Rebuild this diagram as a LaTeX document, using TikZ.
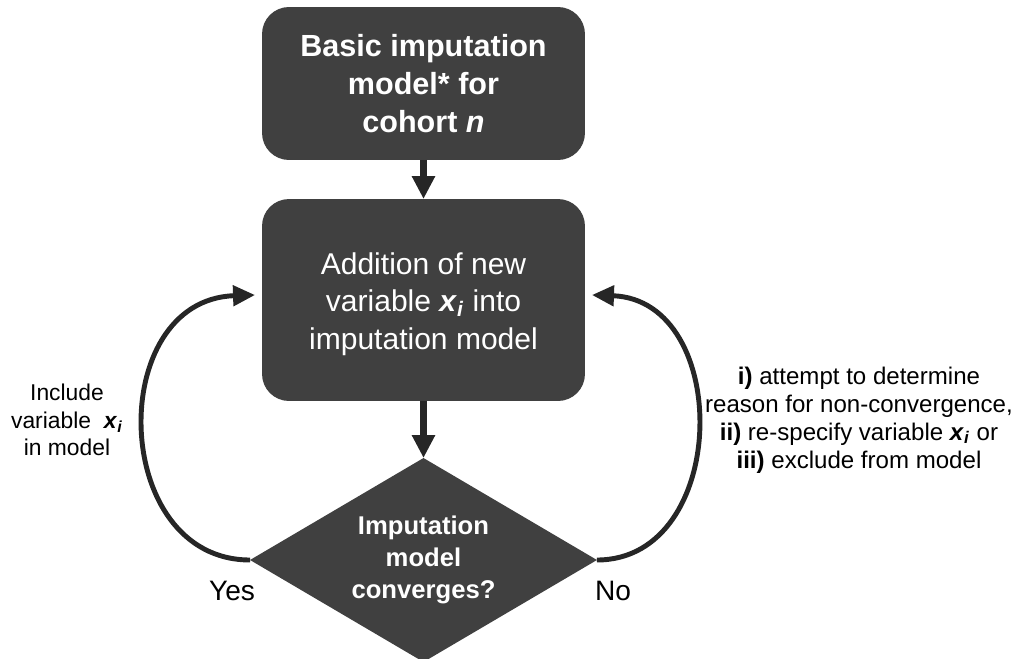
\documentclass[tikz,border=0pt]{standalone}
\usepackage{fontspec}
\setmainfont{Liberation Sans}
\usetikzlibrary{arrows.meta,shapes.geometric,calc}
\definecolor{boxgray}{HTML}{404040}
\definecolor{arrowgray}{HTML}{262626}
\newcommand{\myxi}{\textbf{\textit{x}}\textsubscript{\textbf{\textit{i}}}}
\tikzset{
  darkbox/.style={draw=none, fill=boxgray, rounded corners=0.54cm, text=white, align=center, inner sep=0pt, outer sep=0pt, minimum width=6.46cm},
  straightarrow/.style={draw=arrowgray, line width=4.5pt, -{Triangle[width=0.44cm,length=0.46cm]}},
  loopArrow/.style={draw=arrowgray, line width=2.8pt, -{Triangle[width=0.4cm,length=0.44cm]}},
  sidelabel/.style={align=center, text=black, inner sep=0pt}
}
\begin{document}
\begin{tikzpicture}[x=0.02cm,y=-0.02cm]
\useasboundingbox (0,0) rectangle (1019,659);
\node[darkbox, minimum height=3.06cm, font=\fontsize{17.4}{21.5}\selectfont\bfseries] (top) at (423.5,83.5)
  {Basic imputation\\model* for\\cohort \textit{n}};
\node[darkbox, minimum height=4.04cm] (mid) at (423.5,300) {};
\node[text=white, align=center, inner sep=0pt, font=\fontsize{17.1}{21.3}\selectfont] (midtext) at ($(mid.center)+(0,4)$)
  {Addition of new\\variable \myxi{} into\\imputation model};
\node[diamond, fill=boxgray, text=white, align=center, inner sep=0pt, outer sep=0pt, aspect=1.7,
  minimum width=6.94cm, minimum height=4.08cm, font=\fontsize{14.6}{18.4}\selectfont\bfseries] (dia) at (423.5,560)
  {Imputation\\model\\converges?};
\draw[straightarrow] (top.south) -- (mid.north);
\draw[straightarrow] (mid.south) -- (dia.north);
\coordinate (lt) at ($(mid.west)+(-7,-5)$);
\coordinate (rt) at ($(mid.east)+(7,-5)$);
\draw[loopArrow] (dia.west) .. controls (110,560) and (105,300) .. (lt);
\draw[loopArrow] (dia.east) .. controls (730,560) and (733,300) .. (rt);
\node[sidelabel, font=\fontsize{16}{19}\selectfont] (yes) at (232,591) {Yes};
\node[sidelabel, font=\fontsize{16}{19}\selectfont] (no) at (613,591) {No};
\node[sidelabel, font=\fontsize{13}{15.6}\selectfont] (inc) at (67,420)
  {Include\\variable \ \myxi\\in model};
\node[sidelabel, font=\fontsize{13.7}{15.9}\selectfont] (alt) at (859,420)
  {\textbf{i)} attempt to determine\\reason for non-convergence,\\\textbf{ii)} re-specify variable \myxi{} or\\\textbf{iii)} exclude from model};
\end{tikzpicture}
\end{document}
